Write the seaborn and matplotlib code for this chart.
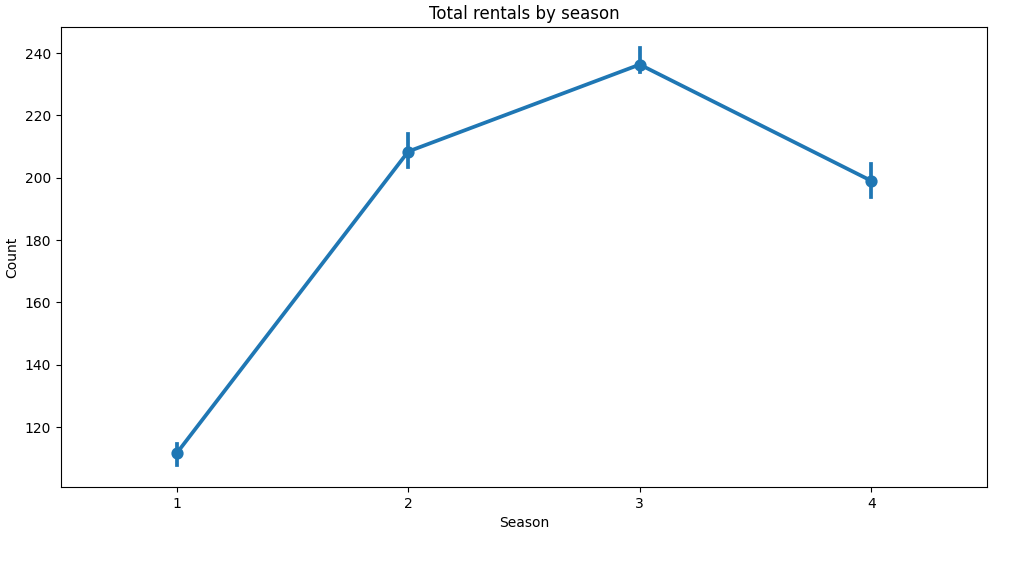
import matplotlib
matplotlib.use("Agg")
import matplotlib.pyplot as plt
import seaborn as sns
import pandas as pd

seasons = [1, 2, 3, 4]
mean_count = [111.6, 208.4, 236.3, 199.0]
ci_low = [107.7, 203.3, 233.9, 193.8]
ci_high = [114.7, 214.0, 241.6, 204.5]

rows = []
for s, lo, m, hi in zip(seasons, ci_low, mean_count, ci_high):
    for v in (lo, m, hi):
        rows.append({"season": s, "count": v})
df = pd.DataFrame(rows)

fig = plt.figure(figsize=(10.24, 5.64), dpi=100)
ax = fig.add_axes([61/1024, 1-487/564, (987-61)/1024, (487-27)/564])
sns.pointplot(data=df, x="season", y="count", estimator="median",
              errorbar=("pi", 100), color="#1f77b4", ax=ax)
ax.set_ylim(100.75, 248.35)
ax.set_title("Total rentals by season")
ax.set_xlabel("Season")
ax.set_ylabel("Count")
fig.savefig("out.png", dpi=100)
